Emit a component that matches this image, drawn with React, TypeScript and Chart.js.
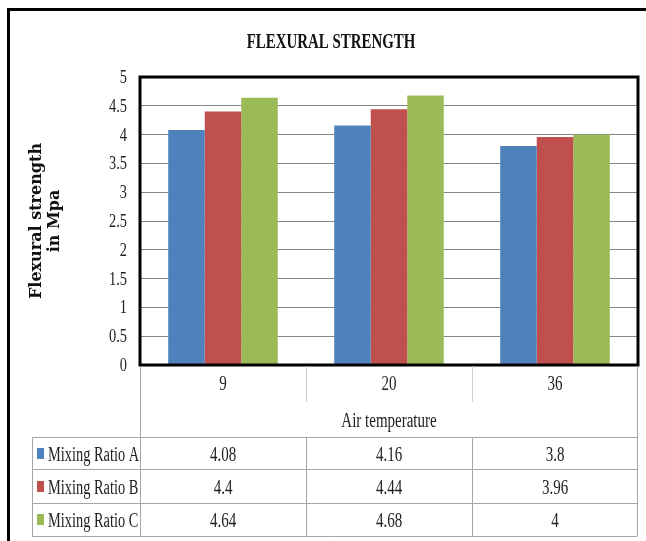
import React, { useEffect, useRef } from "react";
import { Chart, registerables } from "chart.js";

Chart.register(...registerables);

// Chart content
const chartTitle = "FLEXURAL STRENGTH";
const yAxisTitle = ["Flexural strength", "in Mpa"];
const xAxisTitle = "Air temperature";
const categories = ["9", "20", "36"];
const seriesNames = ["Mixing Ratio A", "Mixing Ratio B", "Mixing Ratio C"];
const ratioA = [4.08, 4.16, 3.8];
const ratioB = [4.4, 4.44, 3.96];
const ratioC = [4.64, 4.68, 4];
const seriesColors = ["#4F81BD", "#C0504D", "#9BBB59"];
const yMin = 0;
const yMax = 5;
const yStep = 0.5;

const seriesValues = [ratioA, ratioB, ratioC];

const SERIF = '"Liberation Serif", "Times New Roman", serif';

// Draws narrow serif text by squeezing it horizontally.
function squeezedText(
  ctx: CanvasRenderingContext2D,
  text: string,
  x: number,
  y: number,
  font: string,
  align: CanvasTextAlign,
  sx: number,
  color = "#222"
) {
  ctx.save();
  ctx.translate(x, y);
  ctx.scale(sx, 1);
  ctx.font = font;
  ctx.fillStyle = color;
  ctx.textAlign = align;
  ctx.textBaseline = "alphabetic";
  ctx.fillText(text, 0, 0);
  ctx.restore();
}

const decorPlugin = {
  id: "decor",
  beforeDraw(chart: any) {
    const ctx = chart.ctx as CanvasRenderingContext2D;
    ctx.save();
    ctx.fillStyle = "#ffffff";
    ctx.fillRect(0, 0, chart.width, chart.height);
    ctx.restore();
  },
  afterDatasetsDraw(chart: any) {
    const ctx = chart.ctx as CanvasRenderingContext2D;
    const area = chart.chartArea;
    ctx.save();
    ctx.strokeStyle = "#000";
    ctx.lineWidth = 3;
    ctx.strokeRect(area.left, area.top, area.right - area.left, area.bottom - area.top);
    ctx.restore();
  },
  afterDraw(chart: any) {
    const ctx = chart.ctx as CanvasRenderingContext2D;
    const area = chart.chartArea;
    const xScale = chart.scales.x;
    const yScale = chart.scales.y;

    // outer frame
    ctx.save();
    ctx.strokeStyle = "#000";
    ctx.lineWidth = 3;
    ctx.strokeRect(8.5, 9.5, 800, 800);
    ctx.restore();

    // title
    squeezedText(ctx, chartTitle, 331, 48, `bold 21px ${SERIF}`, "center", 0.71, "#111");

    // y tick labels
    yScale.ticks.forEach((t: any) => {
      const py = yScale.getPixelForValue(t.value);
      squeezedText(ctx, String(t.value), 127, py + 6, `18px ${SERIF}`, "right", 0.8, "#222");
    });

    // y axis title (rotated, two lines)
    ctx.save();
    const cy = (area.top + area.bottom) / 2;
    ctx.translate(0, cy);
    ctx.rotate(-Math.PI / 2);
    ctx.font = `bold 16px "DejaVu Serif", serif`;
    ctx.fillStyle = "#111";
    ctx.textAlign = "center";
    ctx.textBaseline = "middle";
    ctx.fillText(yAxisTitle[0], 0, 37);
    ctx.fillText(yAxisTitle[1], 0, 55);
    ctx.restore();

    // data table
    const half = (area.right - area.left) / categories.length / 2;
    const colEdges: number[] = [area.left];
    categories.forEach((_, i) => colEdges.push(xScale.getPixelForValue(i) + half));
    const tableLeft = 32;
    const right = colEdges[colEdges.length - 1];
    const headerBottom = 402;
    const axisRowBottom = 437;
    const rowBottoms = [469, 503, 536];
    const rowBaselines = [461, 494, 527];

    ctx.save();
    ctx.lineWidth = 1;
    // header row dividers
    ctx.strokeStyle = "#cfcfcf";
    ctx.beginPath();
    for (let i = 1; i < colEdges.length - 1; i++) {
      const x = Math.round(colEdges[i]) + 0.5;
      ctx.moveTo(x, area.bottom + 1);
      ctx.lineTo(x, headerBottom);
    }
    ctx.stroke();

    ctx.strokeStyle = "#a6a6a6";
    ctx.beginPath();
    // left edge of the header block and right edge of the table
    const lx = Math.round(colEdges[0]) + 0.5;
    ctx.moveTo(lx, area.bottom + 1);
    ctx.lineTo(lx, rowBottoms[2]);
    const rx = Math.round(right) - 0.5;
    ctx.moveTo(rx, area.bottom + 1);
    ctx.lineTo(rx, rowBottoms[2]);
    // horizontal rules
    [axisRowBottom, ...rowBottoms].forEach((y) => {
      ctx.moveTo(tableLeft, y + 0.5);
      ctx.lineTo(rx, y + 0.5);
    });
    // label column left edge
    ctx.moveTo(tableLeft + 0.5, axisRowBottom);
    ctx.lineTo(tableLeft + 0.5, rowBottoms[2]);
    // value column dividers
    for (let i = 1; i < colEdges.length - 1; i++) {
      const x = Math.round(colEdges[i]) + 0.5;
      ctx.moveTo(x, axisRowBottom);
      ctx.lineTo(x, rowBottoms[2]);
    }
    ctx.stroke();
    ctx.restore();

    const cellFont = `20px ${SERIF}`;
    categories.forEach((c, i) => {
      squeezedText(ctx, c, xScale.getPixelForValue(i), 390, cellFont, "center", 0.75);
    });
    squeezedText(
      ctx,
      xAxisTitle,
      (colEdges[0] + right) / 2,
      427,
      cellFont,
      "center",
      0.75
    );

    seriesNames.forEach((name, r) => {
      const base = rowBaselines[r];
      ctx.save();
      ctx.fillStyle = seriesColors[r];
      ctx.fillRect(37, base - 13, 7, 11);
      ctx.restore();
      squeezedText(ctx, name, 48, base, cellFont, "left", 0.72);
      seriesValues[r].forEach((v, i) => {
        squeezedText(ctx, String(v), xScale.getPixelForValue(i), base, cellFont, "center", 0.75);
      });
    });
  },
};

export default function App() {
  const canvasRef = useRef<HTMLCanvasElement | null>(null);

  useEffect(() => {
    if (!canvasRef.current) return;
    const chart = new Chart(canvasRef.current, {
      type: "bar",
      data: {
        labels: categories,
        datasets: seriesNames.map((name, i) => ({
          label: name,
          data: seriesValues[i],
          backgroundColor: seriesColors[i],
          borderWidth: 0,
          categoryPercentage: 0.66,
          barPercentage: 1,
        })),
      },
      options: {
        responsive: false,
        animation: false,
        layout: { padding: { left: 140, top: 77, right: 8, bottom: 176 } },
        plugins: {
          legend: { display: false },
          title: { display: false },
          tooltip: { enabled: false },
        },
        scales: {
          x: {
            display: false,
            grid: { display: false },
          },
          y: {
            min: yMin,
            max: yMax,
            ticks: { display: false, stepSize: yStep },
            grid: { color: "#868686", lineWidth: 1, drawTicks: false },
            border: { display: false },
          },
        },
      },
      plugins: [decorPlugin],
    });
    return () => chart.destroy();
  }, []);

  return (
    <div style={{ position: "fixed", left: 0, top: 0, width: 646, height: 541, background: "#fff" }}>
      <canvas ref={canvasRef} width={646} height={541} style={{ display: "block" }} />
    </div>
  );
}
